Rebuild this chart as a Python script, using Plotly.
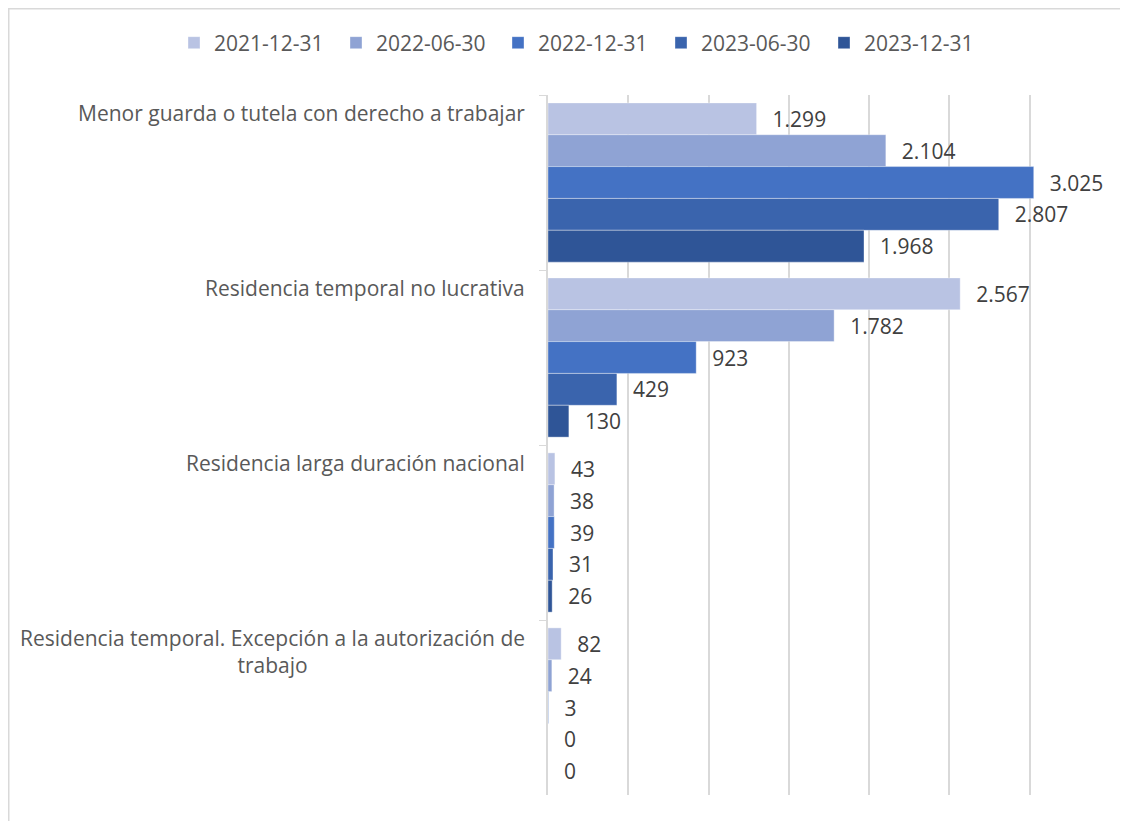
import plotly.graph_objects as go

categories = [
    "Menor guarda o tutela con derecho a trabajar",
    "Residencia temporal no lucrativa",
    "Residencia larga duración nacional",
    "Residencia temporal. Excepción a la autorización de<br>trabajo",
]
series_names = ["2021-12-31", "2022-06-30", "2022-12-31", "2023-06-30", "2023-12-31"]
values_2021_12 = [1299, 2567, 43, 82]
values_2022_06 = [2104, 1782, 38, 24]
values_2022_12 = [3025, 923, 39, 3]
values_2023_06 = [2807, 429, 31, 0]
values_2023_12 = [1968, 130, 26, 0]
series_values = [values_2021_12, values_2022_06, values_2022_12, values_2023_06, values_2023_12]
colors = ["#B9C3E3", "#8FA3D4", "#4472C4", "#3A64AD", "#2F5597"]

# page body has an 8px margin; figure coordinates are reference minus 8
W, H = 1120, 813
L, R, T, B = 540, 18, 87, 26
font_family = "Open Sans"
txt_color = "#595959"
FS = 21

legend_ids = ["legend", "legend2", "legend3", "legend4", "legend5"]
legend_left = [166, 328, 490, 653, 816]  # pixel x of each legend entry box

fig = go.Figure()
for name, vals, col, lid in zip(series_names, series_values, colors, legend_ids):
    fig.add_trace(go.Bar(
        y=categories, x=vals, name=name, orientation="h", legend=lid,
        marker=dict(color=col, line=dict(color="rgba(255,255,255,0.6)", width=0.6)),
        text=vals,
        texttemplate="\u00a0\u00a0\u200a%{x:,.0f}",
        textposition="outside",
        textfont=dict(size=FS, color="#404040", family=font_family),
        cliponaxis=False,
    ))

pw = W - L - R
ph = H - T - B
band = ph / len(categories)

for c in categories:
    fig.add_annotation(
        x=0, xref="paper", xanchor="right", xshift=-21,
        y=c, yref="y", yanchor="top", yshift=band / 2 - 2,
        text=c, showarrow=False, align="center",
        font=dict(size=FS, color=txt_color, family=font_family),
    )

fig.add_shape(
    type="rect", xref="paper", yref="paper",
    x0=(0.75 - L) / pw, x1=(W + 20 - L) / pw,
    y0=-(B + 20) / ph, y1=1 + (T - 0.75) / ph,
    line=dict(color="#D9D9D9", width=1.5), fillcolor="rgba(0,0,0,0)", layer="below",
)

legends = {}
for lid, lx in zip(legend_ids, legend_left):
    legends[lid] = dict(
        orientation="h", xref="container", yref="container",
        x=lx / W, xanchor="left", y=1 - 35 / H, yanchor="middle",
        font=dict(size=FS, color=txt_color, family=font_family),
        itemwidth=30, bgcolor="rgba(0,0,0,0)",
    )

fig.update_layout(
    width=W, height=H,
    margin=dict(l=L, r=R, t=T, b=B, autoexpand=False),
    paper_bgcolor="white", plot_bgcolor="white",
    separators=",.",
    barmode="group", bargap=0.09, bargroupgap=0,
    font=dict(family=font_family, size=FS, color=txt_color),
    showlegend=True,
    xaxis=dict(
        range=[0, 3500], dtick=500, showgrid=True, gridcolor="#D9D9D9", gridwidth=1.5,
        showticklabels=False, zeroline=False, showline=False, fixedrange=True,
    ),
    yaxis=dict(
        autorange="reversed", showticklabels=False, ticks="outside", tickson="boundaries",
        ticklen=7, tickcolor="#D9D9D9", showline=True, linecolor="#D9D9D9", linewidth=1.5,
        showgrid=False,
    ),
    **legends,
)

fig.write_html("out.html")
